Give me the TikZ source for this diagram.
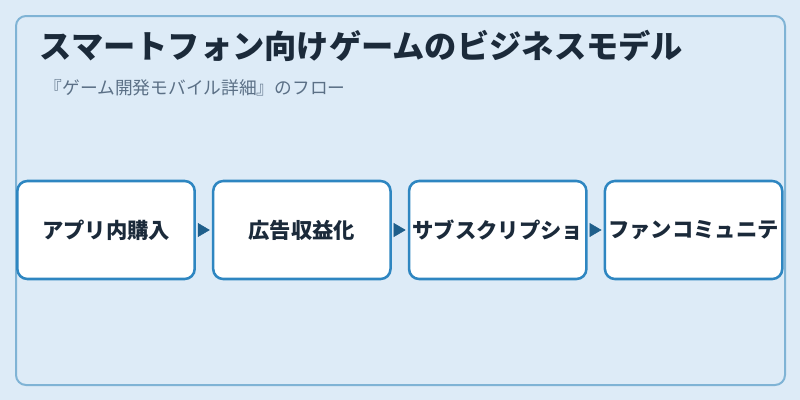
\documentclass[tikz,border=0pt]{standalone}
\usepackage{fontspec}
\setmainfont{Noto Sans CJK JP}
\usetikzlibrary{positioning,arrows.meta}
\definecolor{bgblue}{HTML}{DDEBF7}
\definecolor{frameblue}{HTML}{7FB3D5}
\definecolor{boxblue}{HTML}{2E86C1}
\definecolor{tipblue}{HTML}{1F5F8B}
\definecolor{titleink}{HTML}{1B2A3A}
\definecolor{subink}{HTML}{5B7086}

\begin{document}
\begin{tikzpicture}[x=0.75pt, y=-0.75pt,
		flowbox/.style={draw=boxblue, line width=1.9pt, fill=white, rounded corners=7.5pt,
			minimum width=133pt, minimum height=73.5pt, inner sep=0pt,
			font=\bfseries\fontsize{16}{19}\selectfont, text=titleink},
		flowtip/.style={tipblue, line width=0.4pt, -{Triangle[length=9pt, width=10.5pt]},
			shorten <=1.6pt, shorten >=1.6pt}]
		%%%%% START %%%%%
		
		\fill[bgblue] (0, 0) rectangle (800, 400);
		\useasboundingbox (0, 0) rectangle (800, 400);
		\draw[frameblue, line width=1.5pt, rounded corners=7.5pt] (16, 16) rectangle (785, 385);
		
		\node[anchor=west, text=titleink, font=\bfseries\fontsize{24.2}{29}\selectfont] (title) at (35, 46) {スマートフォン向けゲームのビジネスモデル};
		\node[anchor=west, text=subink, font=\fontsize{13.3}{16}\selectfont] (subtitle) at (40, 88) {『ゲーム開発モバイル詳細』のフロー};
		
		\node[flowbox] (inapp) at (106, 230) {アプリ内購入};
		\node[flowbox, right=12pt of inapp] (ads) {広告収益化};
		\node[flowbox, right=12pt of ads] (subs) {サブスクリプショ};
		\node[flowbox, right=12pt of subs] (fans) {ファンコミュニテ};
		
		\draw[flowtip] (inapp) -- (ads);
		\draw[flowtip] (ads) -- (subs);
		\draw[flowtip] (subs) -- (fans);
		
		%%%%% END %%%%%
	\end{tikzpicture}
\end{document}
